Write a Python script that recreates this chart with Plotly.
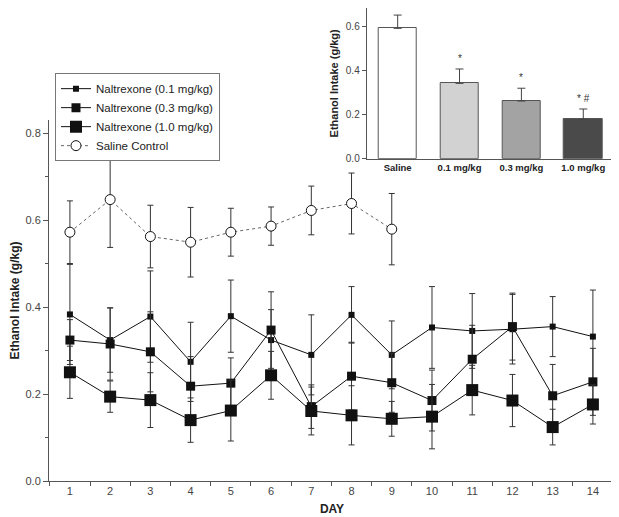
import plotly.graph_objects as go

days = list(range(1, 15))
saline_days = list(range(1, 10))

nal01 = [0.383, 0.324, 0.378, 0.274, 0.379, 0.324, 0.290, 0.382, 0.290, 0.353, 0.345, 0.349, 0.355, 0.332]
nal01_err = [0.115, 0.074, 0.105, 0.091, 0.083, 0.07, 0.092, 0.065, 0.078, 0.094, 0.086, 0.08, 0.069, 0.107]

nal03 = [0.324, 0.315, 0.297, 0.218, 0.225, 0.347, 0.171, 0.241, 0.226, 0.185, 0.280, 0.355, 0.196, 0.228]
nal03_err = [0.047, 0.083, 0.092, 0.068, 0.058, 0.088, 0.05, 0.078, 0.068, 0.07, 0.078, 0.077, 0.072, 0.077]

nal10 = [0.250, 0.194, 0.186, 0.140, 0.162, 0.243, 0.161, 0.151, 0.143, 0.148, 0.209, 0.185, 0.124, 0.176]
nal10_err = [0.06, 0.036, 0.063, 0.051, 0.07, 0.055, 0.055, 0.068, 0.04, 0.074, 0.057, 0.06, 0.041, 0.045]

saline = [0.572, 0.647, 0.562, 0.549, 0.572, 0.586, 0.622, 0.638, 0.579]
saline_err = [0.072, 0.11, 0.072, 0.08, 0.055, 0.044, 0.056, 0.07, 0.082]

bar_cats = ["Saline", "0.1 mg/kg", "0.3 mg/kg", "1.0 mg/kg"]
bar_vals = [0.590, 0.341, 0.261, 0.178]
bar_errs = [0.060, 0.065, 0.058, 0.047]
bar_marks = ["", "*", "*", "* #"]
bar_colors = ["#ffffff", "#d2d2d2", "#a3a3a3", "#4a4a4a"]

FONT = "Liberation Sans, Arial, sans-serif"
err_style = dict(type="data", thickness=1, width=3, color="#333333")

fig = go.Figure()

fig.add_trace(go.Scatter(
    x=days, y=nal01, name="Naltrexone (0.1 mg/kg)", mode="lines+markers",
    line=dict(color="#111111", width=1),
    marker=dict(symbol="square", size=6, color="#111111"),
    error_y=dict(array=nal01_err, **err_style)))
fig.add_trace(go.Scatter(
    x=days, y=nal03, name="Naltrexone (0.3 mg/kg)", mode="lines+markers",
    line=dict(color="#111111", width=1),
    marker=dict(symbol="square", size=9, color="#111111"),
    error_y=dict(array=nal03_err, **err_style)))
fig.add_trace(go.Scatter(
    x=days, y=nal10, name="Naltrexone (1.0 mg/kg)", mode="lines+markers",
    line=dict(color="#111111", width=1),
    marker=dict(symbol="square", size=12, color="#111111"),
    error_y=dict(array=nal10_err, **err_style)))
fig.add_trace(go.Scatter(
    x=saline_days, y=saline, name="Saline Control", mode="lines+markers",
    line=dict(color="#666666", width=1, dash="dot"),
    marker=dict(symbol="circle", size=10, color="white", line=dict(color="#111111", width=1)),
    error_y=dict(array=saline_err, **err_style)))

# inset bar chart
fig.add_trace(go.Bar(
    x=bar_cats, y=bar_vals, xaxis="x2", yaxis="y2", showlegend=False,
    width=0.62,
    marker=dict(color=bar_colors, line=dict(color="#555555", width=1)),
    error_y=dict(type="data", symmetric=False, array=bar_errs,
                 arrayminus=[0] * len(bar_errs), thickness=1, width=4, color="#444444")))

for c, v, e, m in zip(bar_cats, bar_vals, bar_errs, bar_marks):
    if m:
        fig.add_annotation(x=c, y=v + e, xref="x2", yref="y2", text=m, showarrow=False,
                           yanchor="bottom", yshift=3, font=dict(size=10, color="#333333", family=FONT))

# page body has an 8px margin, so the figure is 8px smaller and coordinates are offset
fig.update_layout(
    width=611, height=509,
    margin=dict(l=0, r=0, t=0, b=0),
    paper_bgcolor="white", plot_bgcolor="white",
    font=dict(family=FONT, color="#333333", size=11),
    bargap=0,
    xaxis=dict(
        domain=[0.0671, 0.9935], range=[0.48, 14.55],
        tickmode="array", tickvals=days, ticktext=[str(d) for d in days],
        ticks="", showline=True, linecolor="#555555", linewidth=1,
        showgrid=False, zeroline=False,
        tickfont=dict(size=11, color="#444444"),
        minor=dict(tickmode="array", tickvals=[d + 0.5 for d in range(0, 15)],
                   ticks="outside", ticklen=4, tickcolor="#555555", showgrid=False),
        title=dict(text="<b>DAY</b>", font=dict(size=12, color="#222222"), standoff=8),
        automargin=False),
    yaxis=dict(
        domain=[0.0707, 0.780], range=[0, 0.83],
        tickmode="array", tickvals=[0, 0.2, 0.4, 0.6, 0.8], ticktext=["0.0", "0.2", "0.4", "0.6", "0.8"],
        ticks="outside", ticklen=5, tickcolor="#555555",
        showline=True, linecolor="#555555", linewidth=1,
        showgrid=False, zeroline=False,
        tickfont=dict(size=11, color="#444444"),
        minor=dict(tickmode="array", tickvals=[0.1, 0.3, 0.5, 0.7],
                   ticks="outside", ticklen=3, tickcolor="#555555", showgrid=False),
        title=dict(text="<b>Ethanol Intake (g/kg)</b>", font=dict(size=12, color="#222222"), standoff=8),
        automargin=False),
    xaxis2=dict(
        domain=[0.5871, 0.9962], anchor="y2", range=[-0.5, 3.54],
        showline=True, linecolor="#555555", linewidth=1, ticks="",
        showgrid=False, zeroline=False,
        tickfont=dict(size=9.5, color="#222222", family="Liberation Sans, Arial"),
        tickprefix="<b>", ticksuffix="</b>",
        automargin=False),
    yaxis2=dict(
        domain=[0.7039, 1.0], anchor="x2", range=[0, 0.682],
        tickmode="array", tickvals=[0, 0.2, 0.4, 0.6], ticktext=["0.0", "0.2", "0.4", "0.6"],
        ticks="outside", ticklen=4, tickcolor="#555555",
        showline=True, linecolor="#555555", linewidth=1,
        showgrid=False, zeroline=False,
        tickfont=dict(size=10, color="#444444"),
        title=dict(text="<b>Ethanol Intake (g/kg)</b>", font=dict(size=11, color="#222222"), standoff=4),
        automargin=False),
    legend=dict(
        x=0.0769, y=0.872, xanchor="left", yanchor="top",
        bgcolor="white", bordercolor="#777777", borderwidth=1,
        font=dict(size=11.5, color="#222222"),
        tracegroupgap=0, itemwidth=30),
)

fig.write_html("out.html")
